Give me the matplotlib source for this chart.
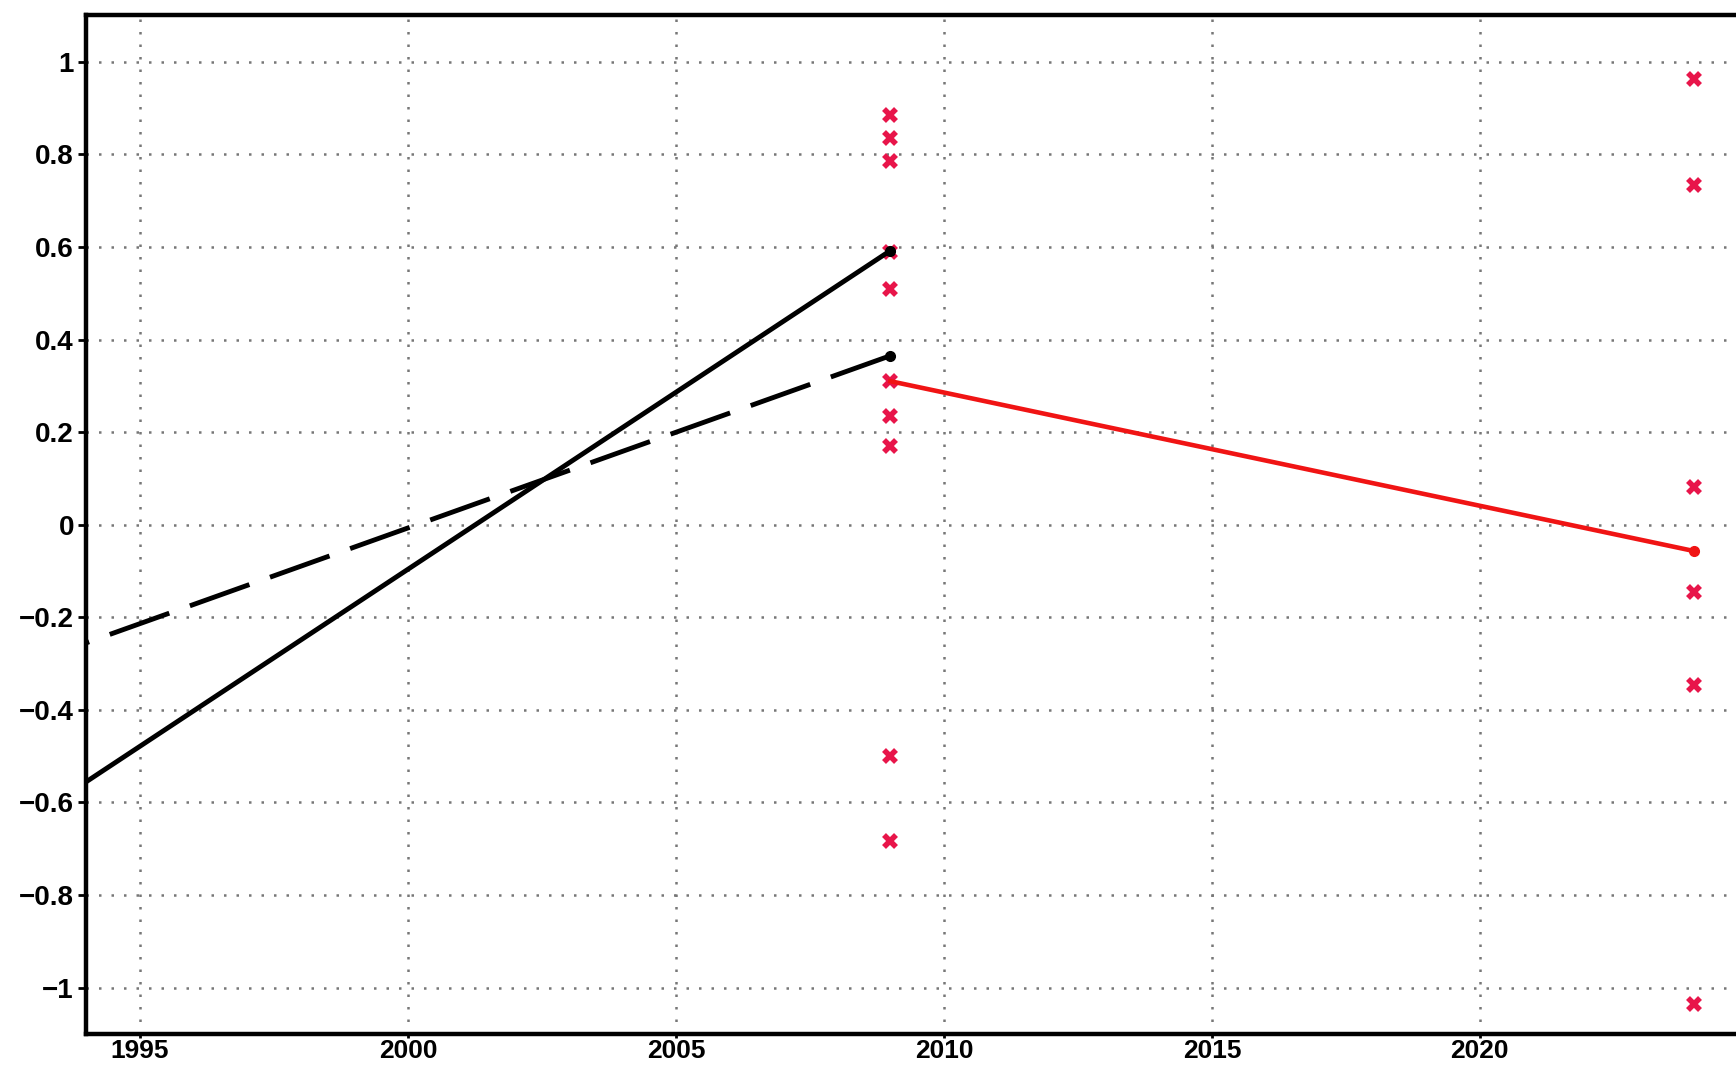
import matplotlib
matplotlib.use("Agg")
import matplotlib.pyplot as plt

# Trend lines (start year/value, end year/value)
solid_years = [1994, 2009]
solid_vals = [-0.555, 0.592]
dashed_years = [1994, 2009]
dashed_vals = [-0.255, 0.365]
red_years = [2009, 2024]
red_vals = [0.31, -0.057]

# Individual estimates (crosses)
cross_2009_vals = [0.885, 0.835, 0.785, 0.59, 0.51, 0.31, 0.234, 0.17, -0.50, -0.683]
cross_2024_vals = [0.962, 0.733, 0.081, -0.146, -0.346, -1.036]

x_ticks = [1995, 2000, 2005, 2010, 2015, 2020]
y_ticks = [1, 0.8, 0.6, 0.4, 0.2, 0, -0.2, -0.4, -0.6, -0.8, -1]
y_tick_labels = ["1", "0.8", "0.6", "0.4", "0.2", "0",
                 "\u22120.2", "\u22120.4", "\u22120.6", "\u22120.8", "\u22121"]

plt.rcParams["font.family"] = ["Liberation Sans", "DejaVu Sans"]

fig = plt.figure(figsize=(17.36, 10.67), dpi=100)
ax = fig.add_axes([0.0498, 0.031, 0.957, 0.9545])

cross_color = "#e8154a"
ax.plot([2009] * len(cross_2009_vals), cross_2009_vals, linestyle="none",
        marker="x", markersize=9, markeredgewidth=4, color=cross_color, zorder=3)
ax.plot([2024] * len(cross_2024_vals), cross_2024_vals, linestyle="none",
        marker="x", markersize=9, markeredgewidth=4, color=cross_color, zorder=3)

ax.plot(solid_years, solid_vals, color="black", lw=3.5, zorder=4)
ax.plot(solid_years[-1:], solid_vals[-1:], "o", color="black", ms=7, zorder=5)
# dash pattern runs from the 2009 end so a dash meets the end dot
ax.plot(dashed_years[::-1], dashed_vals[::-1], color="black", lw=3.5,
        dashes=(13, 4.5), zorder=4)
ax.plot(dashed_years[-1:], dashed_vals[-1:], "o", color="black", ms=7, zorder=5)
ax.plot(red_years, red_vals, color="#f01414", lw=3.3, zorder=4)
ax.plot(red_years[-1:], red_vals[-1:], "o", color="#f01414", ms=7, zorder=5)

ax.set_xlim(1994, 2025)
ax.set_ylim(-1.1, 1.1)
ax.set_xticks(x_ticks)
ax.set_xticklabels([str(v) for v in x_ticks])
ax.set_yticks(y_ticks)
ax.set_yticklabels(y_tick_labels)

ax.grid(True, linestyle=(0, (1, 4)), color="#777777", lw=1.8)
for s in ax.spines.values():
    s.set_linewidth(3.2)
ax.tick_params(axis="y", direction="out", length=6, width=2, labelsize=20, pad=3)
ax.tick_params(axis="x", direction="out", length=3, width=2, labelsize=19, pad=1)
for lab in ax.get_xticklabels() + ax.get_yticklabels():
    lab.set_fontweight("bold")

fig.savefig("out.png", dpi=100)
